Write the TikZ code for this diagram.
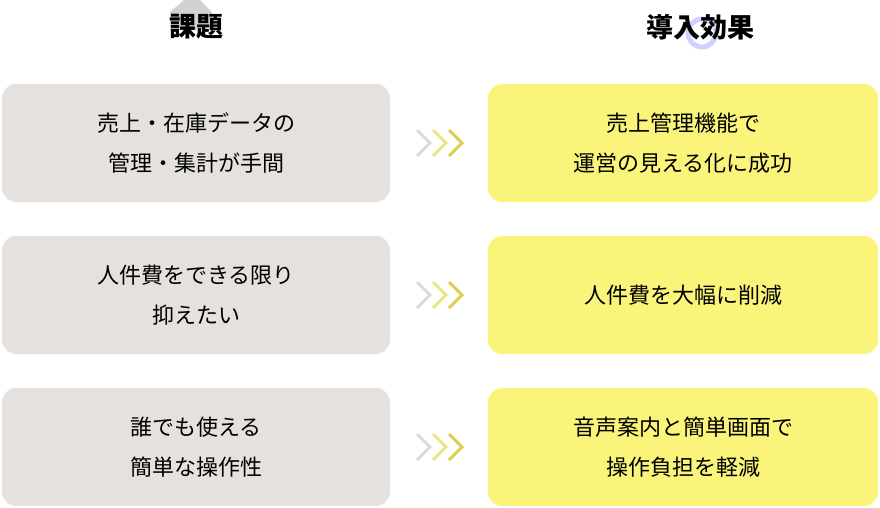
\documentclass[tikz,border=0pt]{standalone}
\usepackage{fontspec}
\setmainfont{Noto Sans CJK JP}
\usepackage{xcolor}
\definecolor{issuegray}{HTML}{E4E1DE}
\definecolor{effectyel}{HTML}{FAF57A}
\definecolor{chevgray}{HTML}{DDDBD8}
\definecolor{chevlight}{HTML}{ECE58A}
\definecolor{chevdark}{HTML}{DCD24E}
\tikzset{chev/.style={line width=3pt}}
\begin{document}
\begin{tikzpicture}
        [
            x=1pt,y=-1pt,
            issue/.style={rectangle,rounded corners=14pt,fill=issuegray,minimum width=388pt,minimum height=118pt,align=center,font=\fontsize{22}{40}\selectfont},
            effect/.style={rectangle,rounded corners=14pt,fill=effectyel,minimum width=390pt,minimum height=118pt,align=center,font=\fontsize{22}{40}\selectfont},
            head/.style={font=\fontsize{27}{30}\selectfont\bfseries},
        ]
    \useasboundingbox (0,0) rectangle (880,507);

    % header decorations
    \fill[black!18] (170,30) -- (170,12) -- (184,0) -- (200,0) -- (212,12) -- (212,30) -- cycle;
    \draw[blue!18,line width=5pt] (702,33) circle (14);

    \node[head] (issuehead) at (196,27) {課題};
    \node[head] (effecthead) at (700,27) {導入効果};

    \node[issue] (issue1) at (196,143) {売上・在庫データの\\管理・集計が手間};
    \node[issue] (issue2) at (196,295) {人件費をできる限り\\抑えたい};
    \node[issue] (issue3) at (196,447) {誰でも使える\\簡単な操作性};

    \node[effect] (effect1) at (683,143) {売上管理機能で\\運営の見える化に成功};
    \node[effect] (effect2) at (683,295) {人件費を大幅に削減};
    \node[effect] (effect3) at (683,447) {音声案内と簡単画面で\\操作負担を軽減};

    % chevrons between the columns
    \foreach \y in {143,295,447}{
        \draw[chev,chevgray] (417,\y-13) -- (430,\y) -- (417,\y+13);
        \draw[chev,chevlight] (433,\y-13) -- (446,\y) -- (433,\y+13);
        \draw[chev,chevdark] (449,\y-13) -- (462,\y) -- (449,\y+13);
    }
\end{tikzpicture}
\end{document}
